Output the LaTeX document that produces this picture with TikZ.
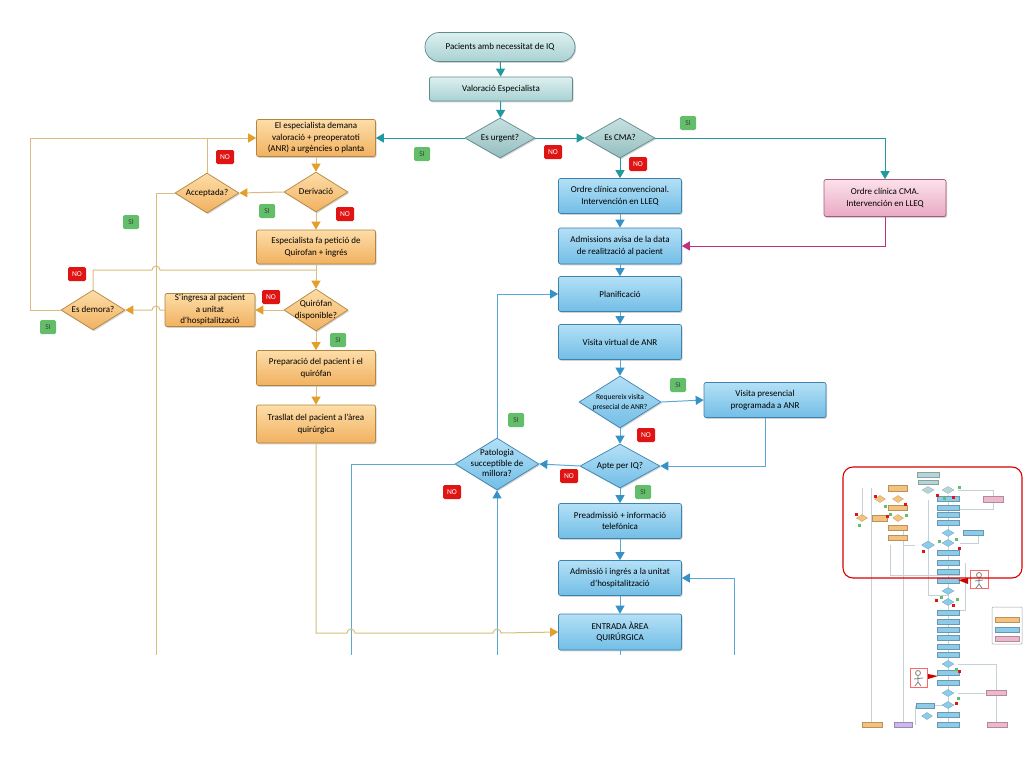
\documentclass[tikz,border=0pt]{standalone}
\usepackage{fontspec}
\setmainfont{Carlito}
\usetikzlibrary{shapes.geometric,arrows.meta,shadows}
\definecolor{tealT}{HTML}{DDF0F0}
\definecolor{tealB}{HTML}{A9D1D2}
\definecolor{tealD}{HTML}{5F8C8E}
\definecolor{tealDiaT}{HTML}{C6E0E0}
\definecolor{tealDiaB}{HTML}{96BFC0}
\definecolor{tealC}{HTML}{22999B}
\definecolor{blT}{HTML}{B4E0F6}
\definecolor{blB}{HTML}{72BEE6}
\definecolor{blD}{HTML}{3E82AE}
\definecolor{bLine}{HTML}{5AA8D5}
\definecolor{bArr}{HTML}{3592C8}
\definecolor{orT}{HTML}{FDDDA8}
\definecolor{orB}{HTML}{F1B160}
\definecolor{orD}{HTML}{B2863E}
\definecolor{oLine}{HTML}{D8BC80}
\definecolor{oArr}{HTML}{E2A02A}
\definecolor{pkT}{HTML}{FBE1EA}
\definecolor{pkB}{HTML}{E9A9C3}
\definecolor{pkD}{HTML}{A85A7E}
\definecolor{pkL}{HTML}{C0307F}
\definecolor{siG}{HTML}{62BE69}
\definecolor{noR}{HTML}{E11414}
\definecolor{thumbL}{HTML}{C4D2D8}
\definecolor{thV}{HTML}{CDB8EC}
\definecolor{thB}{HTML}{8CCBEA}
\definecolor{thO}{HTML}{F5C27E}
\definecolor{thP}{HTML}{EDB8CE}
\definecolor{thT}{HTML}{B5D6D7}
\newcommand{\dt}[1]{\smash{\makebox[0pt]{\raisebox{-2.4pt}{\begin{tabular}{@{}c@{}}#1\end{tabular}}}}}
\newcommand{\tbx}[5]{\filldraw[fill=#5,draw=#5!75!black,line width=0.2pt] (#1-#3/2,#2-#4/2) rectangle (#1+#3/2,#2+#4/2);}
\newcommand{\tdm}[5]{\filldraw[fill=#5,draw=#5!75!black,line width=0.2pt] (#1-#3/2,#2) -- (#1,#2-#4/2) -- (#1+#3/2,#2) -- (#1,#2+#4/2) -- cycle;}
\tikzset{
  shd/.style={drop shadow={shadow xshift=1pt,shadow yshift=-1.3pt,opacity=0.35}},
  box/.style={shd,draw,rounded corners=2pt,align=center,inner sep=1pt,line width=0.7pt,font=\fontsize{9}{11.5}\selectfont},
  tbox/.style={box,top color=tealT,bottom color=tealB,draw=tealD},
  bbox/.style={box,top color=blT,bottom color=blB,draw=blD,minimum width=123,minimum height=35},
  obox/.style={box,top color=orT,bottom color=orB,draw=orD,minimum width=119,minimum height=35},
  pbox/.style={box,top color=pkT,bottom color=pkB,draw=pkD},
  dia/.style={shd,shape=diamond,draw,inner sep=0pt,line width=0.7pt,font=\fontsize{9}{11.5}\selectfont},
  tdia/.style={dia,top color=tealDiaT,bottom color=tealDiaB,draw=tealD},
  bdia/.style={dia,top color=blT,bottom color=blB,draw=blD},
  odia/.style={dia,top color=orT,bottom color=orB,draw=orD},
  tl/.style={line width=1pt,draw=tealC,-{Triangle[length=8pt,width=9pt,color=tealC]}},
  bl/.style={line width=1pt,draw=bLine,-{Triangle[length=8pt,width=9pt,color=bArr]}},
  bnl/.style={line width=1pt,draw=bLine},
  ol/.style={line width=1pt,draw=oLine,-{Triangle[length=8pt,width=9pt,color=oArr]}},
  onl/.style={line width=1pt,draw=oLine},
  pl/.style={line width=1pt,draw=pkL,-{Triangle[length=8pt,width=9pt,color=pkL]}},
  si/.style={fill=siG,rounded corners=1.5pt,text=black!75,font=\fontsize{7.5}{8}\selectfont,minimum width=16,minimum height=14,inner sep=0pt},
  no/.style={fill=noR,rounded corners=1.5pt,text=white,font=\fontsize{7.5}{8}\selectfont,minimum width=18,minimum height=14,inner sep=0pt},
}
\begin{document}
\begin{tikzpicture}[x=1pt,y=-1pt]
\useasboundingbox (0,0) rectangle (1024,768);
\fill[white] (0,0) rectangle (1024,768);

% ---- teal top
\node[tbox,rounded corners=14pt,minimum width=150,minimum height=29] (pac) at (500,47) {Pacients amb necessitat de IQ};
\node[tbox,minimum width=143,minimum height=24] (val) at (501,89) {Valoració Especialista};
\node[tdia,minimum width=70,minimum height=40] (urg) at (500,138) {\dt{Es urgent?}};
\node[tdia,minimum width=70,minimum height=40] (cma) at (620,138) {\dt{Es CMA?}};

% ---- blue column
\node[bbox] (ordre) at (620,196) {Ordre clínica convencional.\\ Intervención en LLEQ};
\node[pbox,minimum width=122,minimum height=37] (cmab) at (885,198) {Ordre clínica CMA.\\ Intervención en LLEQ};
\node[bbox,minimum height=36] (adm) at (620,246) {Admissions avisa de la data\\ de realització al pacient};
\node[bbox] (plan) at (620,294) {Planificació};
\node[bbox] (vv) at (620,342) {Visita virtual de ANR};
\node[bdia,minimum width=82,minimum height=52,font=\fontsize{7.5}{9.5}\selectfont] (req) at (620,402) {\dt{Requereix visita\\ presecial de ANR?}};
\node[bbox,minimum width=122] (vp) at (765,400) {Visita presencial\\ programada a ANR};
\node[bdia,minimum width=80,minimum height=44] (apte) at (620,466) {\dt{Apte per IQ?}};
\node[bdia,minimum width=84,minimum height=52,font=\fontsize{9}{10.5}\selectfont] (pat) at (497,464) {\dt{Patologia\\ succeptible de\\ millora?}};
\node[bbox] (pre) at (620,521) {Preadmissió + informació\\ telefónica};
\node[bbox] (admi) at (620,578) {Admissió i ingrés a la unitat\\ d’hospitalització};
\node[bbox,minimum height=36] (ent) at (620,632) {ENTRADA ÀREA\\ QUIRÚRGICA};

% ---- orange column
\node[obox,minimum height=37] (esp) at (316,138) {El especialista demana\\ valoració + preoperatoti\\ (ANR) a urgències o planta};
\node[odia,minimum width=64,minimum height=40] (der) at (316,192) {\dt{Derivació}};
\node[odia,minimum width=64,minimum height=40] (acc) at (207,193) {\dt{Acceptada?}};
\node[obox,minimum height=34] (pet) at (316,247) {Especialista fa petició de\\ Quirofan + ingrés};
\node[odia,minimum width=64,minimum height=42] (quir) at (316,310) {\dt{Quirófan\\ disponible?}};
\node[obox,minimum width=90,minimum height=33] (sing) at (210,310) {S’ingresa al pacient\\ a unitat\\ d’hospitalització};
\node[odia,minimum width=64,minimum height=40] (dem) at (93,310) {\dt{Es demora?}};
\node[obox] (prep) at (316,368) {Preparació del pacient i el\\ quirófan};
\node[obox,minimum height=38] (tras) at (316,424) {Trasllat del pacient a l’àrea\\ quirúrgica};

% ---- free ends
\coordinate (e351) at (351,655);
\coordinate (e497) at (497,655);
\coordinate (e620) at (620,655);
\coordinate (e734) at (734,655);
\coordinate (e156) at (156,655);

% ---- teal connectors
\draw[tl] (pac) -- (val);
\draw[tl] (val) -- (urg);
\draw[tl] (urg.west) -- (esp.east);
\draw[tl] (urg.east) -- (cma.west);
\draw[tl] (cma.east) -| (cmab.north);
\draw[tl] (cma.south) -- (ordre.north);

% ---- pink
\draw[pl] (cmab.south) |- (adm.east);

% ---- blue connectors
\draw[bl] (ordre) -- (adm);
\draw[bl] (adm) -- (plan);
\draw[bl] (plan) -- (vv);
\draw[bl] (vv) -- (req);
\draw[bl] (req.east) -- (vp.west);
\draw[bl] (vp.south) |- (apte.east);
\draw[bl] (req) -- (apte);
\draw[bl] (apte.west) -- (pat.east);
\draw[bl] (pat.north) |- (plan.west);
\draw[bnl] (pat.west) -| (e351);
\draw[bl] (e497) -- (pat.south);
\draw[bl] (apte) -- (pre);
\draw[bl] (pre) -- (admi);
\draw[bl] (admi) -- (ent);
\draw[bl] (e734) |- (admi.east);
\draw[bnl] (ent.south) -- (e620);

% ---- orange connectors
\draw[ol] (esp) -- (der);
\draw[ol] (der.west) -- (acc.east);
\draw[ol] (der) -- (pet);
\draw[onl] (acc.north) -- (acc.north |- esp.west);
\draw[onl] (acc.west) -| (e156);
\draw[ol] (pet) -- (quir);
\draw[onl] (dem.north) -- (93,270) -- (152,270) arc[start angle=180,end angle=360,radius=4] -- (316,270);
\draw[ol] (quir.west) -- (sing.east);
\draw[ol] (sing.west) -- (160,310) arc[start angle=0,end angle=-180,radius=4] -- (dem.east);
\draw[ol] (dem.west) -- (30,310) -- (30,138) -- (esp.west);
\draw[ol] (quir) -- (prep);
\draw[ol] (prep) -- (tras);
\draw[ol] (tras.south) -- (316,633) -- (347,633) arc[start angle=180,end angle=360,radius=4] -- (493,633) arc[start angle=180,end angle=360,radius=4] -- (ent.west);

% ---- SI / NO labels
\node[si] (s1) at (422,154) {SI};
\node[si] (s2) at (688,123) {SI};
\node[si] (s3) at (267,211) {SI};
\node[si] (s4) at (131,222) {SI};
\node[si] (s5) at (48,327) {SI};
\node[si] (s6) at (338,340) {SI};
\node[si] (s7) at (678,385) {SI};
\node[si] (s8) at (516,420) {SI};
\node[si] (s9) at (643,492) {SI};
\node[no] (n1) at (553,152) {NO};
\node[no] (n2) at (638,164) {NO};
\node[no] (n3) at (225,157) {NO};
\node[no] (n4) at (345,214) {NO};
\node[no] (n5) at (77,274) {NO};
\node[no] (n6) at (271,297) {NO};
\node[no] (n7) at (646,435) {NO};
\node[no] (n8) at (569,476) {NO};
\node[no] (n9) at (452,492) {NO};

% ---- thumbnail of the whole chart
\begin{scope}[line width=0.3pt]
\draw[thumbL] (948,495) -- (948,728);
\draw[thumbL] (871,488) -- (871,722);
\draw[thumbL] (903,530) -- (903,722);
\draw[thumbL] (928,545) -- (928,500);
\draw[thumbL] (928,545) -- (928,595) -- (948,595);
\draw[thumbL] (915,545) -- (903,545);
\draw[thumbL] (958,490) -- (993,490) -- (993,499);
\draw[thumbL] (993,503) -- (993,509) -- (960,509);
\draw[thumbL] (978,533) -- (978,543) -- (960,543);
\draw[thumbL] (965,563) -- (965,610) -- (955,610);
\draw[thumbL] (958,664) -- (996,664) -- (996,690);
\draw[thumbL] (996,696) -- (996,722);
\draw[thumbL] (958,693) -- (985,693);
\draw[thumbL] (862,488) -- (862,518) -- (856,518);
\draw[thumbL] (915,706) -- (915,725);
\draw[thumbL] (935,705) -- (943,705);
\draw[thumbL] (890,545) -- (890,575) -- (960,575);
\tbx{928}{475}{22}{5}{thT}
\tbx{928}{482}{20}{4}{thT}
\tdm{928}{490}{12}{7}{thT}
\tdm{948}{490}{12}{7}{thT}
\tbx{898}{488}{19}{6}{thO}
\tdm{880}{499}{11}{7}{thO}
\tdm{898}{499}{11}{7}{thO}
\tbx{898}{508}{19}{5}{thO}
\tdm{862}{518}{11}{7}{thO}
\tbx{880}{518}{15}{6}{thO}
\tdm{898}{518}{11}{7}{thO}
\tbx{898}{528}{19}{5}{thO}
\tbx{898}{538}{19}{5}{thO}
\foreach \yy in {499,508,515,523,553,563,572,581,613,622,630,638,647,655,673,683,715,725}
  {\tbx{948}{\yy}{22}{5}{thB}}
\foreach \yy in {533,543,591,602,664,693,705}
  {\tdm{948}{\yy}{12}{7}{thB}}
\tdm{928}{545}{13}{8}{thB}
\tbx{973}{533}{20}{5}{thB}
\tbx{993}{499}{20}{6}{thP}
\tbx{996}{693}{20}{5}{thP}
\tbx{997}{725}{20}{5}{thP}
\tbx{872}{725}{20}{5}{thO}
\tbx{903}{725}{18}{5}{thV}
\tbx{925}{706}{18}{5}{thB}
\tdm{927}{716}{11}{7}{thB}
% small yes/no marks
\foreach \p in {(943,497),(958,486),(884,505),(905,514),(858,524),(889,513),(938,540),(955,538),(940,596),(956,598),(955,668),(957,697)}
  {\fill[siG] \p rectangle ++(3,2.5);}
\foreach \p in {(936,494),(952,496),(874,495),(904,503),(855,513),(886,515),(922,550),(958,547),(935,599),(952,604),(958,670),(955,702)}
  {\fill[noR] \p rectangle ++(3,2.5);}
% legend
\filldraw[fill=white,draw=gray!70,rounded corners=1pt,line width=0.5pt] (992,607) rectangle (1022,644);
\tbx{1007}{620}{24}{5}{thO}
\tbx{1007}{630}{24}{5}{thB}
\tbx{1007}{639}{24}{5}{thP}
% figures
\filldraw[fill=white,draw=red!60,line width=0.5pt] (970,570) rectangle (988,588);
\draw[gray,line width=0.8pt] (979,575) circle[radius=2.5] (979,578) -- (979,584) -- (976,588) (979,584) -- (982,588) (975,581) -- (983,580);
\fill[red!80!black] (958,580) -- (968,578) -- (968,584) -- cycle;
\filldraw[fill=white,draw=red!60,line width=0.5pt] (910,668) rectangle (927,687);
\draw[gray,line width=0.8pt] (918,673) circle[radius=2.5] (918,676) -- (918,682) -- (915,686) (918,682) -- (921,686) (914,679) -- (923,678);
\fill[red!80!black] (928,674) -- (938,676) -- (928,679) -- cycle;
% red frame
\draw[red!85!black,line width=1.1pt,rounded corners=10pt] (843,467) rectangle (1022,578);
\end{scope}
\end{tikzpicture}
\end{document}
